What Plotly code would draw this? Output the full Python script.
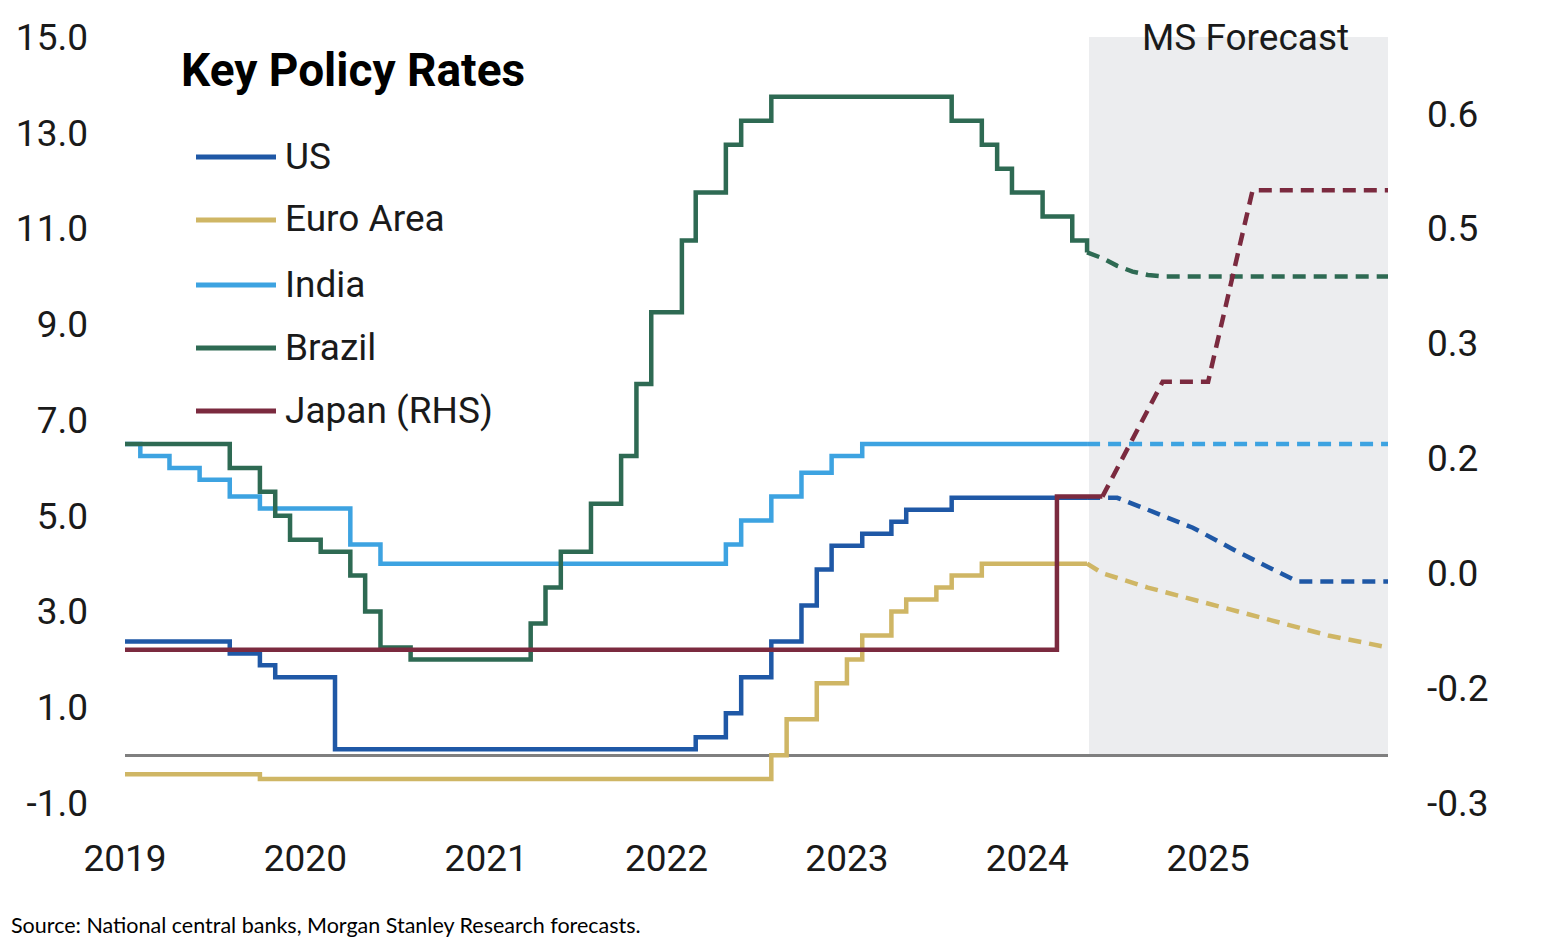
import plotly.graph_objects as go
import pandas as pd

# ---------------- data ----------------
hist_dates = pd.date_range("2019-01-01", "2024-05-01", freq="MS")
jp_hist_dates = pd.date_range("2019-01-01", "2024-06-01", freq="MS")

us_hist = (
    [2.375, 2.375, 2.375, 2.375, 2.375, 2.375, 2.375, 2.125, 2.125, 1.875, 1.625, 1.625]
    + [1.625, 1.625, 0.125, 0.125, 0.125, 0.125, 0.125, 0.125, 0.125, 0.125, 0.125, 0.125]
    + [0.125, 0.125, 0.125, 0.125, 0.125, 0.125, 0.125, 0.125, 0.125, 0.125, 0.125, 0.125]
    + [0.125, 0.125, 0.375, 0.375, 0.875, 1.625, 1.625, 2.375, 2.375, 3.125, 3.875, 4.375]
    + [4.375, 4.625, 4.625, 4.875, 5.125, 5.125, 5.125, 5.375, 5.375, 5.375, 5.375, 5.375]
    + [5.375, 5.375, 5.375, 5.375, 5.375]
)
euro_hist = (
    [-0.4, -0.4, -0.4, -0.4, -0.4, -0.4, -0.4, -0.4, -0.4, -0.5, -0.5, -0.5]
    + [-0.5, -0.5, -0.5, -0.5, -0.5, -0.5, -0.5, -0.5, -0.5, -0.5, -0.5, -0.5]
    + [-0.5, -0.5, -0.5, -0.5, -0.5, -0.5, -0.5, -0.5, -0.5, -0.5, -0.5, -0.5]
    + [-0.5, -0.5, -0.5, -0.5, -0.5, -0.5, -0.5, 0.0, 0.75, 0.75, 1.5, 1.5]
    + [2.0, 2.5, 2.5, 3.0, 3.25, 3.25, 3.5, 3.75, 3.75, 4.0, 4.0, 4.0]
    + [4.0, 4.0, 4.0, 4.0, 4.0]
)
india_hist = (
    [6.5, 6.25, 6.25, 6.0, 6.0, 5.75, 5.75, 5.4, 5.4, 5.15, 5.15, 5.15]
    + [5.15, 5.15, 5.15, 4.4, 4.4, 4.0, 4.0, 4.0, 4.0, 4.0, 4.0, 4.0]
    + [4.0, 4.0, 4.0, 4.0, 4.0, 4.0, 4.0, 4.0, 4.0, 4.0, 4.0, 4.0]
    + [4.0, 4.0, 4.0, 4.0, 4.4, 4.9, 4.9, 5.4, 5.4, 5.9, 5.9, 6.25]
    + [6.25, 6.5, 6.5, 6.5, 6.5, 6.5, 6.5, 6.5, 6.5, 6.5, 6.5, 6.5]
    + [6.5, 6.5, 6.5, 6.5, 6.5]
)
brazil_hist = (
    [6.5, 6.5, 6.5, 6.5, 6.5, 6.5, 6.5, 6.0, 6.0, 5.5, 5.0, 4.5]
    + [4.5, 4.25, 4.25, 3.75, 3.0, 2.25, 2.25, 2.0, 2.0, 2.0, 2.0, 2.0]
    + [2.0, 2.0, 2.0, 2.75, 3.5, 4.25, 4.25, 5.25, 5.25, 6.25, 7.75, 9.25]
    + [9.25, 10.75, 11.75, 11.75, 12.75, 13.25, 13.25, 13.75, 13.75, 13.75, 13.75, 13.75]
    + [13.75, 13.75, 13.75, 13.75, 13.75, 13.75, 13.75, 13.25, 13.25, 12.75, 12.25, 11.75]
    + [11.75, 11.25, 11.25, 10.75, 10.5]
)
japan_hist = (
    [-0.1, -0.1, -0.1, -0.1, -0.1, -0.1, -0.1, -0.1, -0.1, -0.1, -0.1, -0.1]
    + [-0.1, -0.1, -0.1, -0.1, -0.1, -0.1, -0.1, -0.1, -0.1, -0.1, -0.1, -0.1]
    + [-0.1, -0.1, -0.1, -0.1, -0.1, -0.1, -0.1, -0.1, -0.1, -0.1, -0.1, -0.1]
    + [-0.1, -0.1, -0.1, -0.1, -0.1, -0.1, -0.1, -0.1, -0.1, -0.1, -0.1, -0.1]
    + [-0.1, -0.1, -0.1, -0.1, -0.1, -0.1, -0.1, -0.1, -0.1, -0.1, -0.1, -0.1]
    + [-0.1, -0.1, 0.1, 0.1, 0.1, 0.1]
)

# MS forecasts
us_fc_dates = ["2024-05-01", "2024-07-01", "2024-09-01", "2024-12-01", "2025-03-01", "2025-07-01", "2025-12-31"]
us_fc = [5.375, 5.375, 5.125, 4.75, 4.25, 3.625, 3.625]
euro_fc_dates = ["2024-05-01", "2024-06-01", "2024-09-01", "2024-12-01", "2025-03-01", "2025-06-01", "2025-09-01", "2025-12-31"]
euro_fc = [4.0, 3.8, 3.5, 3.25, 3.0, 2.75, 2.5, 2.25]
india_fc_dates = ["2024-05-01", "2025-12-31"]
india_fc = [6.5, 6.5]
brazil_fc_dates = ["2024-05-01", "2024-06-01", "2024-07-01", "2024-08-01", "2024-09-01", "2024-10-01", "2025-12-31"]
brazil_fc = [10.5, 10.38, 10.22, 10.1, 10.03, 10.0, 10.0]
japan_fc_dates = ["2024-06-01", "2024-10-01", "2025-01-01", "2025-04-01", "2025-12-31"]
japan_fc = [0.1, 0.25, 0.25, 0.5, 0.5]

forecast_start = "2024-05-05"
x_start, x_end = "2019-01-01", "2025-12-31"
year_ticks = ["2019-01-01", "2020-01-01", "2021-01-01", "2022-01-01", "2023-01-01", "2024-01-01", "2025-01-01"]
year_labels = ["2019", "2020", "2021", "2022", "2023", "2024", "2025"]
left_ticks = [-1, 1, 3, 5, 7, 9, 11, 13, 15]
left_labels = ["-1.0", "1.0", "3.0", "5.0", "7.0", "9.0", "11.0", "13.0", "15.0"]
right_ticks = [-0.3, -0.15, 0.0, 0.15, 0.3, 0.45, 0.6]
right_labels = ["-0.3", "-0.2", "0.0", "0.2", "0.3", "0.5", "0.6"]

series = [
    ("Euro Area", hist_dates, euro_hist, euro_fc_dates, euro_fc, "#CFB665", "y"),
    ("India", hist_dates, india_hist, india_fc_dates, india_fc, "#3DA3E1", "y"),
    ("Brazil", hist_dates, brazil_hist, brazil_fc_dates, brazil_fc, "#2E6A53", "y"),
    ("US", hist_dates, us_hist, us_fc_dates, us_fc, "#1F58A6", "y"),
    ("Japan (RHS)", jp_hist_dates, japan_hist, japan_fc_dates, japan_fc, "#7B2A3F", "y2"),
]
legend_order = ["US", "Euro Area", "India", "Brazil", "Japan (RHS)"]
colors = {s[0]: s[5] for s in series}

# ---------------- layout helpers (page pixel -> paper) ----------------
OFF = 8                     # default body margin of the html page
PAGE_W, PAGE_H = 1559, 948
W, H = PAGE_W - 2 * OFF, PAGE_H - 2 * OFF
L, R, T, B = 125, 1388, 37, 803   # plot area in page pixels
def px(x):
    return (x - L) / (R - L)
def py(y):
    return (B - y) / (B - T)

FONT = "Roboto"
TXT = "#1a1a1a"

fig = go.Figure()
for name, hd, hv, fd, fv, col, ax in series:
    fig.add_trace(go.Scatter(x=fd, y=fv, mode="lines", yaxis=ax, showlegend=False,
                             line=dict(color=col, width=4.5, dash="13px,8px"), name=name + " forecast"))
for name, hd, hv, fd, fv, col, ax in series:
    fig.add_trace(go.Scatter(x=hd, y=hv, mode="lines", yaxis=ax, showlegend=False,
                             line=dict(color=col, width=4.5, shape="hv"), name=name))

shapes = [
    dict(type="rect", xref="x", yref="y", x0=forecast_start, x1=x_end, y0=0, y1=15,
         fillcolor="#ECEDEF", line=dict(width=0), layer="below"),
]
annotations = [
    dict(text="MS Forecast", x=px(1245), y=py(37), xref="paper", yref="paper",
         xanchor="center", yanchor="middle", showarrow=False,
         font=dict(family=FONT, size=37, color=TXT)),
    dict(text="<b>Key Policy Rates</b>", x=px(179), y=py(70), xref="paper", yref="paper",
         xanchor="left", yanchor="middle", showarrow=False,
         font=dict(family=FONT, size=46, color="#000000")),
    dict(text="Source: National central banks, Morgan Stanley Research forecasts.",
         x=px(9), y=py(925), xref="paper", yref="paper", xanchor="left", yanchor="middle",
         showarrow=False, font=dict(family="Lato", size=21.5, color="#000000")),
]
leg_y = [157, 220, 285, 348, 411]
for name, ly in zip(legend_order, leg_y):
    shapes.append(dict(type="line", xref="paper", yref="paper", x0=px(196), x1=px(276),
                       y0=py(ly), y1=py(ly), line=dict(color=colors[name], width=5)))
    annotations.append(dict(text=name, x=px(283), y=py(ly - 1), xref="paper", yref="paper",
                            xanchor="left", yanchor="middle", showarrow=False,
                            font=dict(family=FONT, size=37, color=TXT)))

fig.update_layout(
    width=W, height=H,
    margin=dict(l=L - OFF, r=W - (R - OFF), t=T - OFF, b=H - (B - OFF), autoexpand=False),
    paper_bgcolor="white", plot_bgcolor="white",
    showlegend=False,
    shapes=shapes, annotations=annotations,
    xaxis=dict(type="date", range=[x_start, x_end], tickvals=year_ticks, ticktext=year_labels,
               showgrid=False, zeroline=False, showline=False, ticks="",
               tickfont=dict(family=FONT, size=37, color=TXT), ticklabelstandoff=30),
    yaxis=dict(range=[-1, 15], tickvals=left_ticks, ticktext=left_labels, showgrid=False,
               zeroline=True, zerolinecolor="#7F7F7F", zerolinewidth=3, showline=False, ticks="",
               tickfont=dict(family=FONT, size=37, color=TXT), ticklabelstandoff=36),
    yaxis2=dict(range=[-0.3, 0.7], overlaying="y", side="right", tickvals=right_ticks,
                ticktext=right_labels, showgrid=False, zeroline=False, showline=False, ticks="",
                tickfont=dict(family=FONT, size=37, color=TXT), ticklabelstandoff=38),
)

fig.write_html("out.html")
